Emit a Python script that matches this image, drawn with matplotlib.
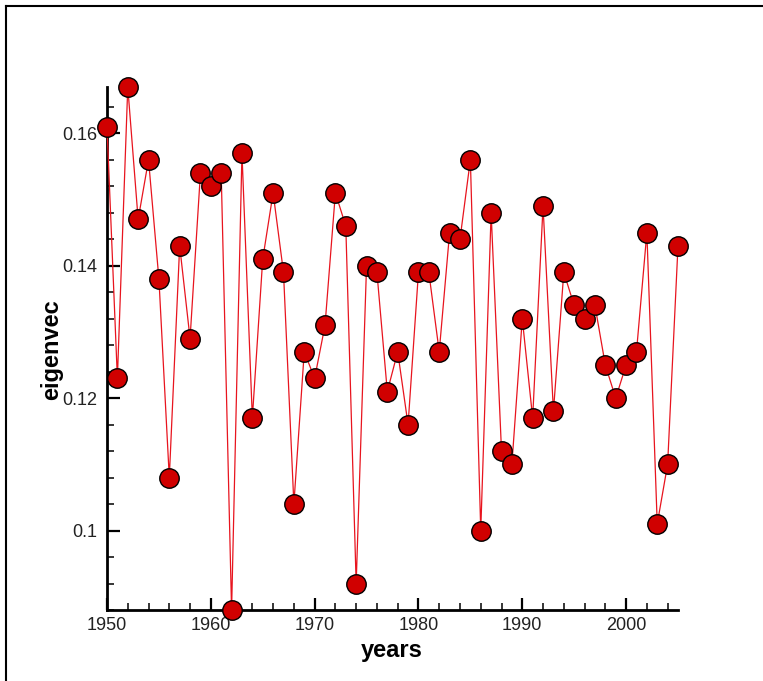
import matplotlib
matplotlib.use("Agg")
import matplotlib.pyplot as plt
from matplotlib.ticker import MultipleLocator
from matplotlib.lines import Line2D
import numpy as np

# values
years = list(range(1950, 2006))
eigenvec = [
    0.161, 0.123, 0.167, 0.147, 0.156, 0.138, 0.108, 0.143, 0.129, 0.154,  # 1950s
    0.152, 0.154, 0.088, 0.157, 0.117, 0.141, 0.151, 0.139, 0.104, 0.127,  # 1960s
    0.123, 0.131, 0.151, 0.146, 0.092, 0.140, 0.139, 0.121, 0.127, 0.116,  # 1970s
    0.139, 0.139, 0.127, 0.145, 0.144, 0.156, 0.100, 0.148, 0.112, 0.110,  # 1980s
    0.132, 0.117, 0.149, 0.118, 0.139, 0.134, 0.132, 0.134, 0.125, 0.120,  # 1990s
    0.125, 0.127, 0.145, 0.101, 0.110, 0.143,                              # 2000s
]
x_ticks = [1950, 1960, 1970, 1980, 1990, 2000]
y_ticks = [0.1, 0.12, 0.14, 0.16]

plt.rcParams['font.family'] = ['Liberation Sans', 'DejaVu Sans']

W, H = 763, 681
fig = plt.figure(figsize=(W / 100, H / 100), dpi=100)

# axes box in pixels: x 107..678, y 87..610
ax = fig.add_axes([107 / W, (H - 610) / H, 571 / W, (610 - 87) / H])

ax.plot(years, eigenvec, color='#e8141e', lw=0.9, zorder=2, clip_on=False)
ax.plot(years, eigenvec, ls='none', marker='o', ms=14, mfc='#d00000',
        mec='black', mew=1.0, zorder=3, clip_on=False)

ax.set_xlim(1950, 2005)
ax.set_ylim(0.088, 0.167)

ax.xaxis.set_major_locator(MultipleLocator(10))
ax.xaxis.set_minor_locator(MultipleLocator(2))
ax.set_xticks(x_ticks)
ax.set_yticks(y_ticks)
ax.set_yticklabels([f"{v:g}" for v in y_ticks])
ax.yaxis.set_minor_locator(MultipleLocator(0.004))

for side in ('top', 'right'):
    ax.spines[side].set_visible(False)
for side in ('left', 'bottom'):
    ax.spines[side].set_linewidth(2.0)
    ax.spines[side].set_zorder(1)

ax.tick_params(which='major', direction='in', length=9, width=1.6,
               labelsize=13, labelcolor='#222222', pad=5)
ax.tick_params(which='minor', direction='in', length=5, width=1.1)
ax.tick_params(axis='y', which='major', pad=7)

fig.text(392 / W, 1 - 650 / H, 'years', ha='center', va='center',
         fontsize=17, fontweight='bold')
fig.text(52 / W, 1 - 350 / H, 'eigenvec', ha='center', va='center',
         rotation=90, fontsize=17, fontweight='bold')

# frame lines on top and left edge of the picture
fig.add_artist(Line2D([6 / W, 1], [1 - 6 / H, 1 - 6 / H], color='black', lw=1.5))
fig.add_artist(Line2D([6 / W, 6 / W], [0, 1 - 6 / H], color='black', lw=1.5))

fig.savefig('out.png', dpi=100)
